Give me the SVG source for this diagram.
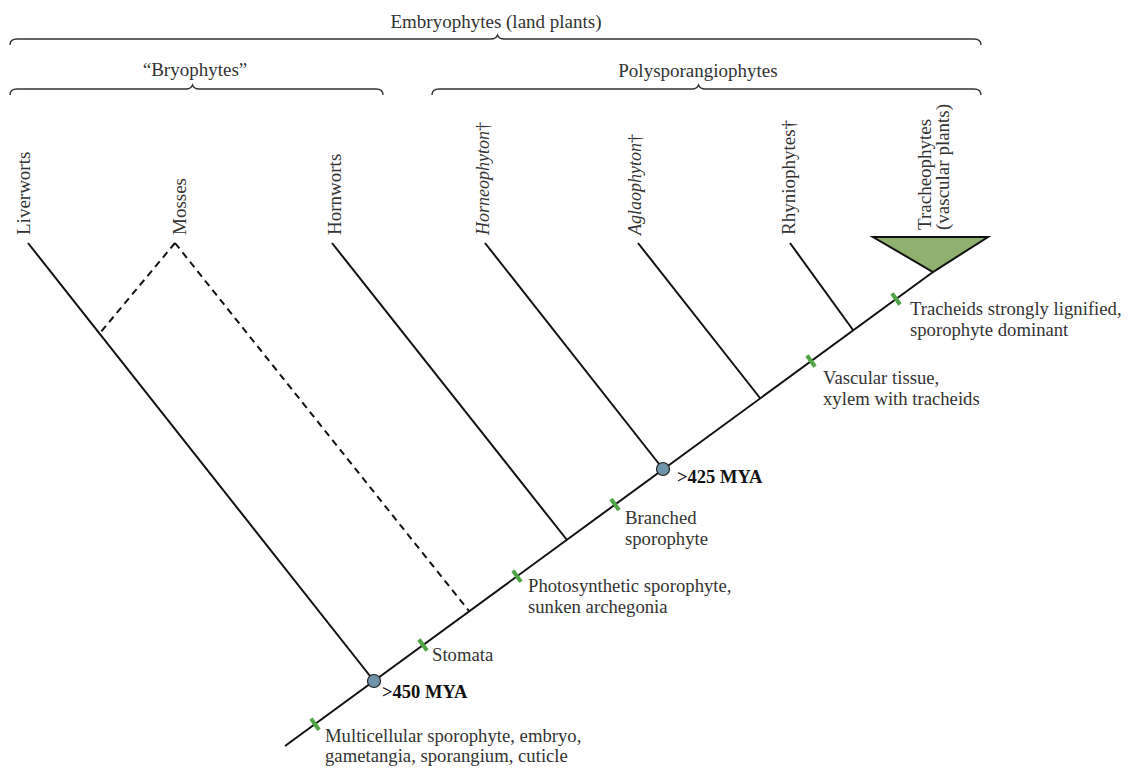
<svg xmlns="http://www.w3.org/2000/svg" width="1128" height="771" viewBox="0 0 1128 771">
<style>
.br{fill:none;stroke:#333;stroke-width:1.4}
.ln{fill:none;stroke:#111;stroke-width:2}
.ds{fill:none;stroke:#111;stroke-width:2;stroke-dasharray:7,5}
.tk{stroke:#4fa444;stroke-width:4}
.nd{fill:#6f93a8;stroke:#222;stroke-width:1.2}
.hd{font-family:"Liberation Serif",serif;font-size:19px;fill:#333}
.tx{font-family:"Liberation Serif",serif;font-size:18.7px;fill:#333}
.vl{font-family:"Liberation Serif",serif;font-size:19px;fill:#333}
.vi{font-family:"Liberation Serif",serif;font-size:18px;fill:#333}
.it{font-style:italic}
.bd{font-family:"Liberation Serif",serif;font-size:18.5px;font-weight:bold;fill:#111}
</style>
<rect width="1128" height="771" fill="#fff"/>
<g id="brace-embryophytes">
<path class="br" d="M10,45 Q10,39 17,39 L491,39 Q496,39 497.5,35 Q499,39 504,39 L974,39 Q981,39 981,45"/>
<text class="hd" x="496" y="28" text-anchor="middle">Embryophytes (land plants)</text>
</g>
<g id="brace-bryophytes">
<path class="br" d="M10,95 Q10,89 17,89 L186,89 Q191,89 192.5,85 Q194,89 199,89 L376,89 Q383,89 383,95"/>
<text class="hd" x="195" y="76" text-anchor="middle">“Bryophytes”</text>
</g>
<g id="brace-polysporangiophytes">
<path class="br" d="M432,95 Q432,89 439,89 L692,89 Q697,89 698.5,85 Q700,89 705,89 L974,89 Q981,89 981,95"/>
<text class="hd" x="698" y="77" text-anchor="middle">Polysporangiophytes</text>
</g>
<g id="connectors">
<line class="ln" x1="285" y1="746" x2="933" y2="272"/>
<line class="ln" x1="28" y1="243" x2="374" y2="681"/>
<line class="ds" x1="175" y1="243" x2="100" y2="333"/>
<line class="ds" x1="175" y1="243" x2="469" y2="611"/>
<line class="ln" x1="332" y1="243" x2="567" y2="540"/>
<line class="ln" x1="485" y1="243" x2="663" y2="469"/>
<line class="ln" x1="638" y1="243" x2="760" y2="398"/>
<line class="ln" x1="790" y1="243" x2="853" y2="330"/>
</g>
<g id="ticks">
<line class="tk" x1="311" y1="718.6" x2="319" y2="729.8"/>
<line class="tk" x1="419" y1="639.5" x2="427" y2="650.7"/>
<line class="tk" x1="513" y1="570.7" x2="521" y2="581.9"/>
<line class="tk" x1="611" y1="499" x2="619" y2="510.2"/>
<line class="tk" x1="807" y1="355.5" x2="815" y2="366.7"/>
<line class="tk" x1="892" y1="293.3" x2="900" y2="304.5"/>
</g>
<g id="node-tracheophytes">
<polygon points="873,237 988,237 933,272" fill="#8fb170" stroke="#111" stroke-width="2" stroke-linejoin="miter"/>
<text class="vl" transform="translate(931,230) rotate(-90)">Tracheophytes</text>
<text class="vl" transform="translate(949,230) rotate(-90)">(vascular plants)</text>
</g>
<g id="node-liverworts"><text class="vl" transform="translate(30,235) rotate(-90)">Liverworts</text></g>
<g id="node-mosses"><text class="vl" transform="translate(186,235) rotate(-90)">Mosses</text></g>
<g id="node-hornworts"><text class="vl" transform="translate(341,235) rotate(-90)">Hornworts</text></g>
<g id="node-horneophyton"><text class="vi" transform="translate(489,235) rotate(-90)"><tspan class="it">Horneophyton</tspan>†</text></g>
<g id="node-aglaophyton"><text class="vi" transform="translate(641,235) rotate(-90)"><tspan class="it">Aglaophyton</tspan>†</text></g>
<g id="node-rhyniophytes"><text class="vl" transform="translate(795,235) rotate(-90)">Rhyniophytes†</text></g>
<g id="node-450">
<circle class="nd" cx="374" cy="681" r="6.5"/>
<text class="bd" x="382" y="698">&gt;450 MYA</text>
</g>
<g id="node-425">
<circle class="nd" cx="663" cy="469" r="6.5"/>
<text class="bd" x="677" y="483">&gt;425 MYA</text>
</g>
<g id="labels">
<text class="tx" x="325" y="742">Multicellular sporophyte, embryo,</text>
<text class="tx" x="325" y="762">gametangia, sporangium, cuticle</text>
<text class="tx" x="432" y="661">Stomata</text>
<text class="tx" x="528" y="592">Photosynthetic sporophyte,</text>
<text class="tx" x="528" y="613">sunken archegonia</text>
<text class="tx" x="625" y="524">Branched</text>
<text class="tx" x="625" y="545">sporophyte</text>
<text class="tx" x="823" y="384">Vascular tissue,</text>
<text class="tx" x="823" y="405">xylem with tracheids</text>
<text class="tx" x="910" y="315">Tracheids strongly lignified,</text>
<text class="tx" x="910" y="336">sporophyte dominant</text>
</g>
</svg>
